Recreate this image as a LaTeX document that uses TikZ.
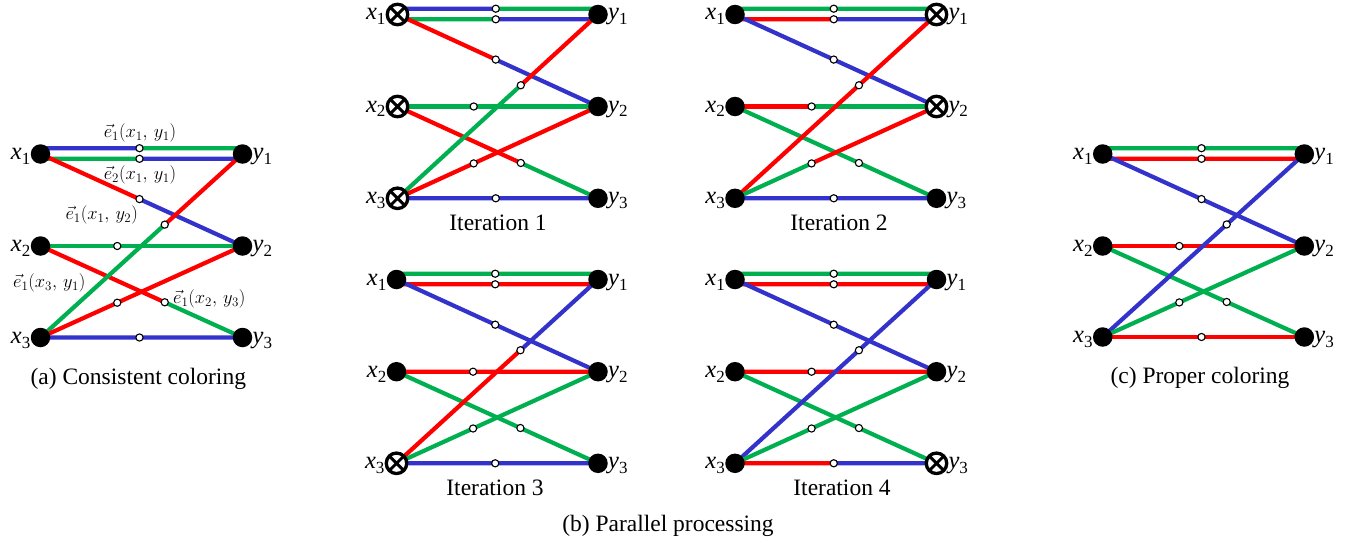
\RequirePackage{fix-cm}
\documentclass[tikz,border=0pt]{standalone}
\usepackage{fontspec}
\setmainfont{Liberation Serif}
\usetikzlibrary{calc}
\pgfdeclarelayer{bg}
\pgfsetlayers{bg,main}
\definecolor{cB}{RGB}{51,51,204}
\definecolor{cG}{RGB}{0,176,80}
\definecolor{cR}{RGB}{255,0,0}
\newcommand\lab[2]{\textit{#1}\raisebox{-5pt}{\fontsize{17}{17}\selectfont #2}}
\tikzset{
  dotnode/.style={circle, fill=black, minimum size=19.5pt, inner sep=0pt},
  crossnode/.style={circle, draw=black, line width=3.3pt, fill=white, minimum size=20.5pt, inner sep=0pt,
    path picture={\draw[line width=2.9pt]
      (path picture bounding box.north west) -- (path picture bounding box.south east)
      (path picture bounding box.north east) -- (path picture bounding box.south west);}},
  xlab/.style={anchor=base east, inner sep=0pt, font=\fontsize{24.5}{26}\selectfont},
  ylab/.style={anchor=base west, inner sep=0pt, font=\fontsize{24.5}{26}\selectfont},
  edgeln/.style={line width=4.2pt},
  midc/.style={circle, draw=black, fill=white, line width=1.1pt, minimum size=7.2pt, inner sep=0pt},
  elab/.style={inner sep=0pt, font=\fontsize{18.5}{18.5}\selectfont},
  captxt/.style={anchor=base, inner sep=0pt, font=\fontsize{23.5}{28}\selectfont},
  mk i1-x1/.style={crossnode}, mk i1-x2/.style={crossnode}, mk i1-x3/.style={crossnode},
  mk i2-y1/.style={crossnode}, mk i2-y2/.style={crossnode},
  mk i3-x3/.style={crossnode},
  mk i4-y3/.style={crossnode},
}
\newcommand\Vx[4]{%
  \node[dotnode, mk #1/.try] (#1) at (#2,#3) {};
  \node[xlab] (#1-l) at ([yshift=-5.5pt]#1.west) {\lab{x}{#4}};}
\newcommand\Vy[4]{%
  \node[dotnode, mk #1/.try] (#1) at (#2,#3) {};
  \node[ylab] (#1-l) at ([yshift=-5.5pt]#1.east) {\lab{y}{#4}};}
\newcommand\Nodes[6]{% prefix, X, Y, r1, r2, r3
  \Vx{#1x1}{#2}{#4}{1}\Vx{#1x2}{#2}{#5}{2}\Vx{#1x3}{#2}{#6}{3}%
  \Vy{#1y1}{#3}{#4}{1}\Vy{#1y2}{#3}{#5}{2}\Vy{#1y3}{#3}{#6}{3}}
\newcommand\Edges[2]{%
  \foreach \ca/\cb [count=\eK] in {#2}{%
    \ifcase\eK\or\def\eF{x1}\def\eT{y1}\def\eP{0.49}\def\eS{5.8}%
    \or\def\eF{x1}\def\eT{y1}\def\eP{0.49}\def\eS{-4.8}%
    \or\def\eF{x1}\def\eT{y2}\def\eP{0.49}\def\eS{0}%
    \or\def\eF{x2}\def\eT{y2}\def\eP{0.38}\def\eS{0}%
    \or\def\eF{x2}\def\eT{y3}\def\eP{0.615}\def\eS{0}%
    \or\def\eF{x3}\def\eT{y1}\def\eP{0.615}\def\eS{0}%
    \or\def\eF{x3}\def\eT{y2}\def\eP{0.38}\def\eS{0}%
    \or\def\eF{x3}\def\eT{y3}\def\eP{0.49}\def\eS{0}\fi
    \path ([yshift=\eS pt]#1\eF.center) coordinate (#1e\eK-s)
          ([yshift=\eS pt]#1\eT.center) coordinate (#1e\eK-t);
    \coordinate (#1e\eK) at ($(#1e\eK-s)!\eP!(#1e\eK-t)$);
    \begin{pgfonlayer}{bg}
      \draw[edgeln, color=\ca] (#1e\eK-s) -- (#1e\eK);
      \draw[edgeln, color=\cb] (#1e\eK) -- (#1e\eK-t);
    \end{pgfonlayer}
    \node[midc] (#1m\eK) at (#1e\eK) {};
  }}
\begin{document}
\begin{tikzpicture}[x=1pt, y=-1pt]
\useasboundingbox (0,0) rectangle (1361,543);
% (a)
\Nodes{a-}{40.5}{242.5}{154}{246}{337.5}
\Edges{a-}{cB/cG, cG/cB, cR/cB, cG/cG, cR/cG, cG/cR, cR/cR, cB/cB}
\node[elab] (la1) at (140,133.3) {$\vec{e}_1(x_1,\,y_1)$};
\node[elab] (la2) at (140,175) {$\vec{e}_2(x_1,\,y_1)$};
\node[elab] (la3) at (101.7,215) {$\vec{e}_1(x_1,\,y_2)$};
\node[elab] (la4) at (49.3,283.3) {$\vec{e}_1(x_3,\,y_1)$};
\node[elab] (la5) at (209.3,299.3) {$\vec{e}_1(x_2,\,y_3)$};
\node[captxt] (capa) at (138.3,384) {(a) Consistent coloring};
% Iteration 1
\Nodes{i1-}{397.5}{598}{14.5}{106.5}{198.3}
\Edges{i1-}{cB/cG, cG/cB, cR/cB, cG/cG, cR/cG, cG/cR, cR/cR, cB/cB}
\node[captxt] (cap1) at (498,230) {Iteration 1};
% Iteration 2
\Nodes{i2-}{735}{936.5}{14.5}{106.5}{198.3}
\Edges{i2-}{cG/cG, cR/cB, cB/cB, cR/cG, cG/cG, cR/cR, cG/cR, cB/cB}
\node[captxt] (cap2) at (839,230) {Iteration 2};
% Iteration 3
\Nodes{i3-}{396.5}{598}{279.5}{371.7}{463.3}
\Edges{i3-}{cG/cG, cR/cR, cB/cB, cR/cR, cG/cG, cR/cB, cG/cG, cB/cB}
\node[captxt] (cap3) at (495,495) {Iteration 3};
% Iteration 4
\Nodes{i4-}{735}{936.5}{279.5}{371.7}{463.3}
\Edges{i4-}{cG/cG, cR/cR, cB/cB, cR/cR, cG/cG, cB/cB, cG/cG, cR/cB}
\node[captxt] (cap4) at (842,495) {Iteration 4};
\node[captxt] (capb) at (668,531.7) {(b) Parallel processing};
% (c)
\Nodes{c-}{1102.7}{1304.3}{154}{246}{337}
\Edges{c-}{cG/cG, cR/cR, cB/cB, cR/cR, cG/cG, cB/cB, cG/cG, cR/cR}
\node[captxt] (capc) at (1200,383.3) {(c) Proper coloring};
\end{tikzpicture}
\end{document}
